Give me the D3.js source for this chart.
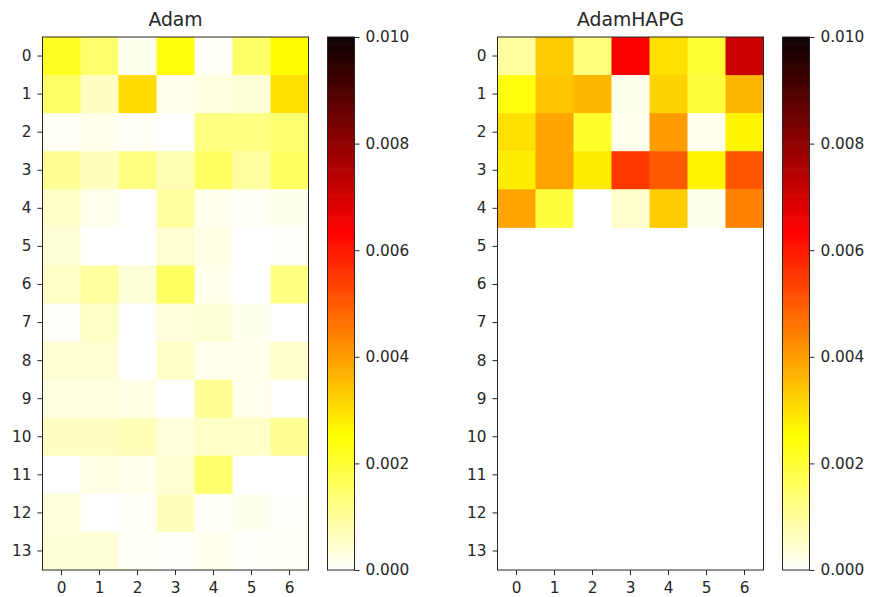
<!DOCTYPE html>
<html>
<head>
<meta charset="utf-8">
<script src="https://cdn.jsdelivr.net/npm/d3@7"></script>
<style>
  body { margin: 0; background: #fff; }
  text { font-family: "DejaVu Sans", sans-serif; fill: #262626; }
</style>
</head>
<body>
<svg id="chart" width="870" height="597"></svg>
<script>
// rows 0..13, columns 0..6
const rows = d3.range(14)
const cols = d3.range(7)
const cbTicks = [0, 0.002, 0.004, 0.006, 0.008, 0.010]

const adam = [
  [0.0022, 0.00145, 0.00015, 0.0024, 0.0001, 0.0015, 0.0026],
  [0.0015, 0.0006, 0.0031, 0.0002, 0.0003, 0.0004, 0.0030],
  [0.0001, 0.0002, 0.0001, 0, 0.00125, 0.00125, 0.0014],
  [0.00105, 0.00065, 0.00125, 0.00075, 0.00155, 0.00095, 0.00155],
  [0.00055, 0.0002, 0, 0.00095, 0.0002, 0.0001, 0.00015],
  [0.0004, 0, 0, 0.00045, 0.00025, 0, 0.00005],
  [0.00055, 0.00095, 0.0004, 0.00155, 0.0002, 0, 0.00125],
  [0.00005, 0.00055, 0, 0.00035, 0.0004, 0.00015, 0],
  [0.00045, 0.00045, 0, 0.00055, 0.0002, 0.0002, 0.0005],
  [0.0003, 0.0003, 0.00025, 0, 0.00105, 0.0002, 0],
  [0.0006, 0.0006, 0.0007, 0.00035, 0.00055, 0.00055, 0.00105],
  [0, 0.00025, 0.0002, 0.00045, 0.00145, 0, 0],
  [0.00035, 0, 0.0001, 0.00065, 0.0001, 0.00015, 0.00005],
  [0.0004, 0.0004, 0.0001, 0.00005, 0.0002, 0.00005, 0.0001]
]

// only the first 5 rows carry values, the rest are empty (NaN)
const adamHapg = [
  [0.00095, 0.0033, 0.0013, 0.0064, 0.0030, 0.0020, 0.0071],
  [0.0024, 0.0034, 0.0036, 0.00015, 0.0032, 0.0019, 0.0036],
  [0.0030, 0.0039, 0.0021, 0.0002, 0.0040, 0.0002, 0.0027],
  [0.0028, 0.0039, 0.0028, 0.0055, 0.0050, 0.0027, 0.0051],
  [0.0039, 0.0019, 0, 0.0005, 0.0033, 0.00015, 0.0044]
]

const vmin = 0, vmax = 0.01
const tickFont = 15.3, titleFont = 18.8

// matplotlib "hot_r"
function hotR(t) {
  const s = 1 - Math.max(0, Math.min(1, t))
  const clip = v => Math.max(0, Math.min(1, v))
  const r = s < 0.365079 ? 0.0416 + (1 - 0.0416) * s / 0.365079 : 1
  const g = clip((s - 0.365079) / (0.746032 - 0.365079))
  const b = clip((s - 0.746032) / (1 - 0.746032))
  return d3.rgb(r * 255, g * 255, b * 255).toString()
}
const color = v => hotR((v - vmin) / (vmax - vmin))

const svg = d3.select('#chart')

function styleAxis(a) {
  a.select('.domain').remove()
  a.selectAll('line').attr('stroke', '#262626').attr('stroke-width', 1)
  a.selectAll('text').attr('font-size', tickFont).attr('fill', '#262626')
    .style('font-family', '"DejaVu Sans", sans-serif')
}

function heatmap(data, title, left) {
  const top = 37, width = 266, height = 533

  const x = d3.scaleBand().domain(cols).range([left, left + width])
  const y = d3.scaleBand().domain(rows).range([top, top + height])

  const g = svg.append('g')

  data.forEach((row, i) => {
    g.selectAll(null)
      .data(row)
      .enter().append('rect')
      .attr('x', (d, j) => x(j))
      .attr('y', y(i))
      .attr('width', x.bandwidth() + 0.5)
      .attr('height', y.bandwidth() + 0.5)
      .attr('fill', d => color(d))
  })

  g.append('g')
    .attr('transform', `translate(0,${top + height})`)
    .call(d3.axisBottom(x).tickSize(5).tickPadding(7))
    .call(styleAxis)
  g.append('g')
    .attr('transform', `translate(${left},0)`)
    .call(d3.axisLeft(y).tickSize(5).tickPadding(6))
    .call(styleAxis)

  g.append('rect')
    .attr('x', left).attr('y', top)
    .attr('width', width).attr('height', height)
    .attr('fill', 'none').attr('stroke', '#262626').attr('stroke-width', 1)

  g.append('text')
    .attr('x', left + width / 2)
    .attr('y', top - 11)
    .attr('text-anchor', 'middle')
    .attr('font-size', titleFont)
    .text(title)

  // colorbar
  const cbLeft = left + 285, cbWidth = 27
  const cy = d3.scaleLinear().domain([vmin, vmax]).range([top + height, top])
  const steps = d3.range(0, 256)
  g.selectAll(null)
    .data(steps)
    .enter().append('rect')
    .attr('x', cbLeft)
    .attr('y', d => cy(vmin + (d + 1) / 256 * (vmax - vmin)))
    .attr('width', cbWidth)
    .attr('height', height / 256 + 0.6)
    .attr('fill', d => color(vmin + (d + 0.5) / 256 * (vmax - vmin)))

  g.append('g')
    .attr('transform', `translate(${cbLeft + cbWidth},0)`)
    .call(d3.axisRight(cy).tickValues(cbTicks).tickFormat(d3.format('.3f')).tickSize(5).tickPadding(6))
    .call(styleAxis)

  g.append('rect')
    .attr('x', cbLeft).attr('y', top)
    .attr('width', cbWidth).attr('height', height)
    .attr('fill', 'none').attr('stroke', '#262626').attr('stroke-width', 1)
}

heatmap(adam, 'Adam', 42.5)
heatmap(adamHapg, 'AdamHAPG', 497.5)
</script>
</body>
</html>
